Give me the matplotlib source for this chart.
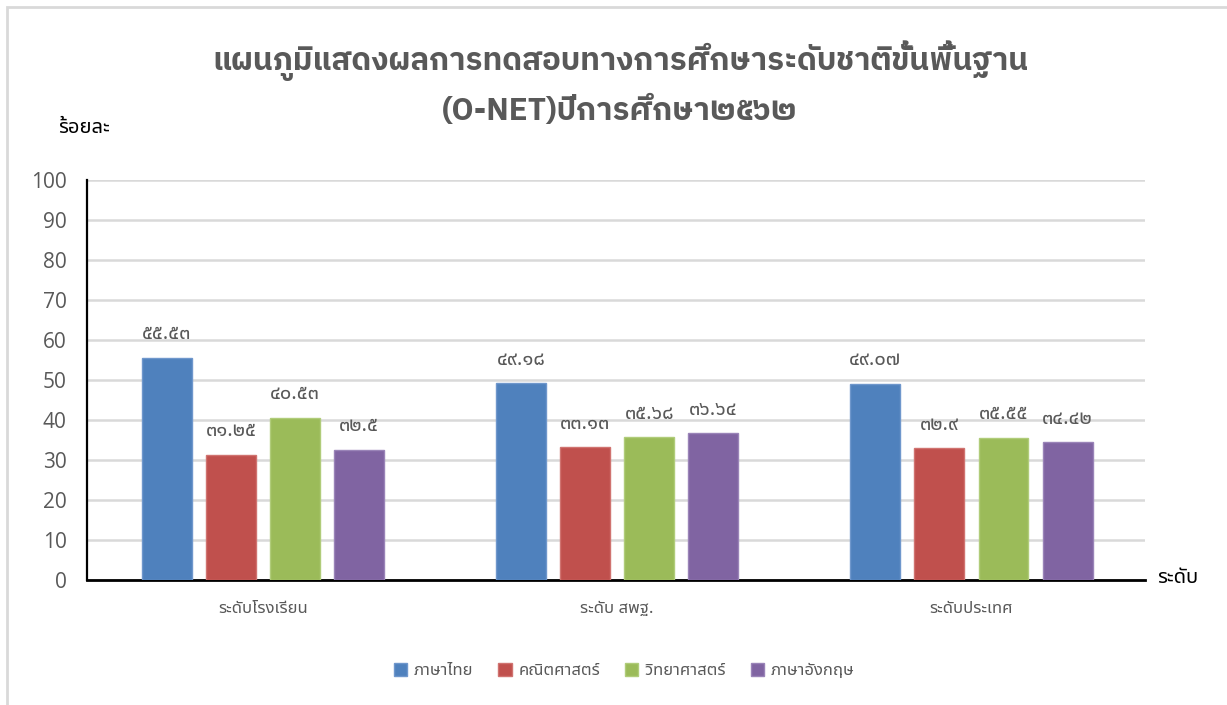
import matplotlib
matplotlib.use("Agg")
import matplotlib.pyplot as plt
import numpy as np
from matplotlib.patches import Rectangle

categories = ["ระดับโรงเรียน", "ระดับ สพฐ.", "ระดับประเทศ"]
series_names = ["ภาษาไทย", "คณิตศาสตร์", "วิทยาศาสตร์", "ภาษาอังกฤษ"]
thai_lang = [55.53, 49.18, 49.07]
math_vals = [31.25, 33.13, 32.90]
science = [40.53, 35.68, 35.55]
english = [32.50, 36.64, 34.42]
value_labels = [
    ["๕๕.๕๓", "๔๙.๑๘", "๔๙.๐๗"],
    ["๓๑.๒๕", "๓๓.๑๓", "๓๒.๙"],
    ["๔๐.๕๓", "๓๕.๖๘", "๓๕.๕๕"],
    ["๓๒.๕", "๓๖.๖๔", "๓๔.๔๒"],
]
yticks = [0, 10, 20, 30, 40, 50, 60, 70, 80, 90, 100]
title = "แผนภูมิแสดงผลการทดสอบทางการศึกษาระดับชาติขั้นพื้นฐาน\n(O-NET)ปีการศึกษา๒๕๖๒"
y_label = "ร้อยละ"
x_label = "ระดับ"

colors = ["#4f81bd", "#c0504d", "#9bbb59", "#8064a2"]
edge_colors = ["#6f97cc", "#d07370", "#b0cc7a", "#9a84b8"]
FAM = ["Noto Sans Thai", "Noto Sans", "DejaVu Sans"]
plt.rcParams["font.family"] = FAM
GRAY = "#595959"

fig = plt.figure(figsize=(12.27, 7.05), dpi=100)
W, H = 1227, 705
fig.patches.append(Rectangle((7 / W, -0.05), 1.2, (705 - 7) / H + 0.05,
                             transform=fig.transFigure, fill=False,
                             edgecolor="#d9d9d9", linewidth=2))

ax = fig.add_axes([87 / W, 1 - 580 / H, (1145 - 87) / W, 400 / H])
series = [thai_lang, math_vals, science, english]
x = np.arange(len(categories))
bw = 0.141
step = 0.181
for i, vals in enumerate(series):
    pos = x + (i - 1.5) * step
    ax.bar(pos, vals, width=bw, color=colors[i], edgecolor=edge_colors[i],
           linewidth=1, label=series_names[i], zorder=3)
    for p, v, lab in zip(pos, vals, value_labels[i]):
        ax.annotate(lab, (p, v), xytext=(0, 17), textcoords="offset points",
                    ha="center", va="center", fontsize=14.5, color=GRAY)

ax.set_ylim(0, 100)
ax.set_xlim(-0.497, 2.49)
ax.set_yticks(yticks)
ax.set_yticklabels([str(t) for t in yticks], fontsize=15, color=GRAY,
                   family=["Open Sans", "DejaVu Sans"])
ax.tick_params(axis="y", length=0, pad=14.5)
ax.set_xticks(x)
ax.set_xticklabels(categories, fontsize=12, color=GRAY)
ax.tick_params(axis="x", length=0, pad=15)
ax.grid(axis="y", color="#d9d9d9", linewidth=1.8, zorder=0)
for s in ["top", "right"]:
    ax.spines[s].set_visible(False)
ax.spines["left"].set_linewidth(1.6)
ax.spines["bottom"].set_linewidth(2)
ax.spines["left"].set_color("black")
ax.spines["bottom"].set_color("black")

fig.text(620 / W, 1 - 83 / H, title, ha="center", va="center", fontsize=22.5,
         fontweight="bold", color=GRAY, linespacing=1.55,
         family=["IBM Plex Sans Thai", "Noto Sans Thai", "DejaVu Sans"])
fig.text(84 / W, 1 - 128 / H, y_label, ha="center", va="center", fontsize=14.5,
         color="black")
fig.text(1178 / W, 1 - 578 / H, x_label, ha="center", va="center", fontsize=14.5,
         color="black")

fig.legend(loc="center", bbox_to_anchor=(624 / W, 1 - 671 / H), ncol=4,
           frameon=False, fontsize=12, handlelength=0.8, handleheight=0.8,
           handletextpad=0.4, columnspacing=1.5, labelcolor=GRAY)

fig.savefig("out.png", dpi=100)
